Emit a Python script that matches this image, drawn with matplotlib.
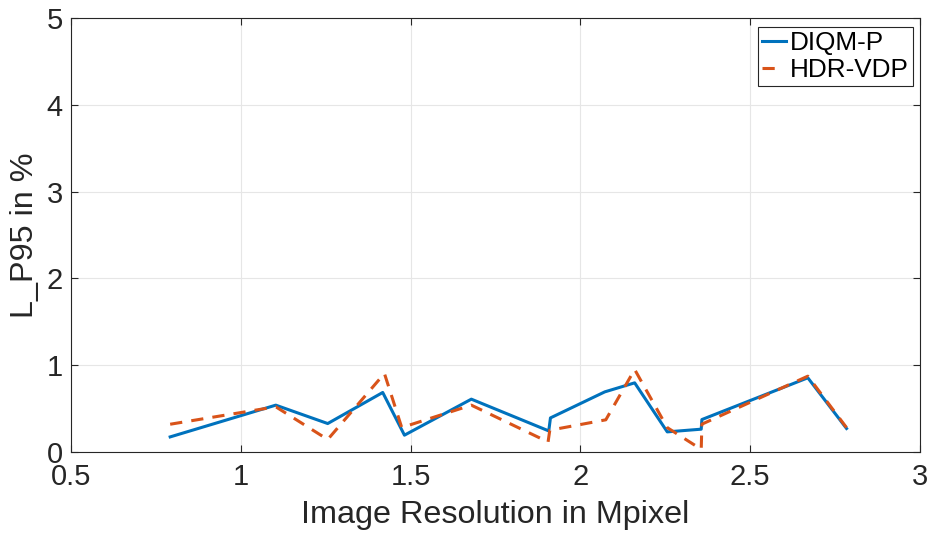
import matplotlib
matplotlib.use("Agg")
import matplotlib.pyplot as plt
from matplotlib.lines import Line2D

# values
diqm_x = [0.792, 1.103, 1.256, 1.418, 1.482, 1.679, 1.907, 1.912, 2.072, 2.160,
          2.256, 2.356, 2.358, 2.670, 2.784]
diqm_y = [0.173, 0.539, 0.327, 0.685, 0.193, 0.608, 0.242, 0.392, 0.692, 0.796,
          0.231, 0.262, 0.373, 0.854, 0.270]

hdr_x = [0.792, 1.103, 1.256, 1.423, 1.474, 1.679, 1.905, 1.910, 2.075, 2.160,
         2.256, 2.356, 2.358, 2.670, 2.784]
hdr_y = [0.319, 0.520, 0.143, 0.904, 0.281, 0.539, 0.115, 0.250, 0.370, 0.950,
         0.280, 0.030, 0.320, 0.873, 0.280]

xticks = [0.5, 1, 1.5, 2, 2.5, 3]
xtick_labels = ["0.5", "1", "1.5", "2", "2.5", "3"]
yticks = [0, 1, 2, 3, 4, 5]

plt.rcParams["font.family"] = ["Liberation Sans", "DejaVu Sans"]
TXT = "#262626"
BLUE, ORANGE = "#0072BD", "#D95319"

fig = plt.figure(figsize=(9.32, 5.38), dpi=100)
ax = fig.add_axes([0.0762, 0.160, 0.9108, 0.8065])

ax.plot(diqm_x, diqm_y, "-", color=BLUE, linewidth=2.2)
ax.plot(hdr_x, hdr_y, "--", color=ORANGE, linewidth=2.2, dashes=(4, 3))

ax.set_xlim(0.5, 3)
ax.set_ylim(0, 5)
ax.set_xticks(xticks)
ax.set_xticklabels(xtick_labels)
ax.set_yticks(yticks)
ax.grid(True, color="#e6e6e6", linewidth=0.8)
ax.set_axisbelow(True)
ax.tick_params(direction="in", labelsize=21, length=5, width=0.8,
               colors=TXT, top=True, right=True)
ax.tick_params(axis="x", pad=8)
ax.tick_params(axis="y", pad=6)
for s in ax.spines.values():
    s.set_color(TXT)
    s.set_linewidth(0.8)

ax.set_xlabel("Image Resolution in Mpixel", fontsize=23.3, color=TXT)
ax.set_ylabel("L_P95 in %", fontsize=23.3, color=TXT)
ax.xaxis.set_label_coords(0.5, -0.111)
ax.yaxis.set_label_coords(-0.037, 0.5)

# legend proxies: the dashed handle shows a single dash like the original
handles = [Line2D([], [], color=BLUE, linewidth=2.2),
           Line2D([], [], color=ORANGE, linewidth=2.2, linestyle="--",
                  dashes=(4, 10))]
leg = ax.legend(handles, ["DIQM-P", "HDR-VDP"], loc="upper right",
                bbox_to_anchor=(0.992, 0.979),
                borderaxespad=0, fontsize=18.8, handlelength=0.92,
                handletextpad=0.15, borderpad=0.15, labelspacing=0.12,
                fancybox=False, framealpha=1)
leg.get_frame().set_edgecolor(TXT)
leg.get_frame().set_linewidth(0.8)

fig.savefig("out.png", dpi=100)
